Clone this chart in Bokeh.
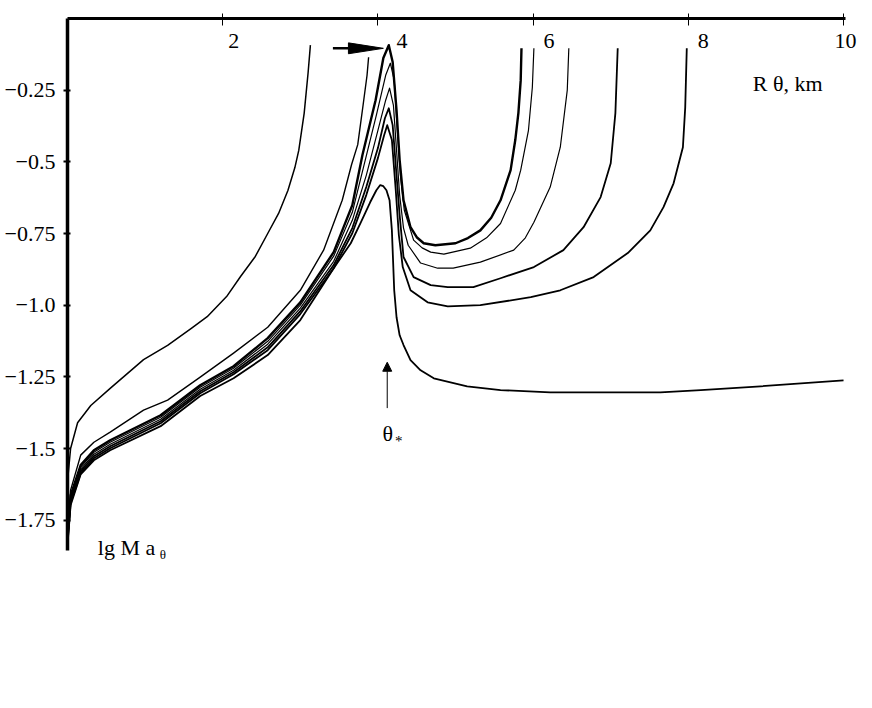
from bokeh.plotting import figure
from bokeh.models import FixedTicker, LabelSet, Label, Arrow, NormalHead, ColumnDataSource
from bokeh.embed import file_html
from bokeh.resources import INLINE

# ---------------- data ----------------
X_TICKS = [2, 4, 6, 8, 10]
X_TICK_LABELS = ["2", "4", "6", "8", "10"]
Y_TICKS = [-0.25, -0.5, -0.75, -1.0, -1.25, -1.5, -1.75]
Y_TICK_LABELS = ["\u22120.25", "\u22120.5", "\u22120.75", "\u22121.0", "\u22121.25", "\u22121.5", "\u22121.75"]

c1_x = [0.005, 0.04, 0.13, 0.30, 0.55, 0.98, 1.29, 1.60, 1.80, 2.05, 2.23, 2.42, 2.58, 2.72, 2.84, 2.93, 2.98, 3.05, 3.10, 3.13]
c1_y = [-1.60, -1.50, -1.41, -1.35, -1.29, -1.19, -1.14, -1.08, -1.04, -0.97, -0.90, -0.83, -0.75, -0.68, -0.60, -0.52, -0.46, -0.33, -0.19, -0.093]

c2_x = [0.005, 0.04, 0.17, 0.34, 0.55, 0.98, 1.29, 1.71, 2.14, 2.58, 3.00, 3.30, 3.54, 3.66, 3.74, 3.81, 3.86, 3.88]
c2_y = [-1.767, -1.645, -1.523, -1.478, -1.443, -1.366, -1.331, -1.251, -1.167, -1.077, -0.948, -0.808, -0.634, -0.51, -0.44, -0.30, -0.198, -0.135]

u1_x = [0.005, 0.04, 0.17, 0.34, 0.55, 1.20, 1.71, 2.14, 2.58, 3.00, 3.43, 3.67, 3.80, 3.97, 4.07, 4.14,
        4.19, 4.24, 4.28, 4.33, 4.42, 4.50, 4.59, 4.74, 5.00, 5.16, 5.32, 5.46, 5.58, 5.71, 5.77, 5.81, 5.84, 5.85]
u1_y = [-1.785, -1.663, -1.558, -1.506, -1.471, -1.384, -1.279, -1.213, -1.115, -0.990, -0.815, -0.651, -0.477, -0.285, -0.138, -0.093,
        -0.152, -0.320, -0.494, -0.634, -0.728, -0.763, -0.784, -0.791, -0.784, -0.766, -0.739, -0.695, -0.634, -0.529, -0.424, -0.330, -0.215, -0.104]

u2_x = [0.005, 0.04, 0.17, 0.34, 0.55, 1.20, 1.71, 2.14, 2.58, 3.00, 3.43, 3.67, 3.82, 3.98, 4.10, 4.16,
        4.21, 4.25, 4.29, 4.34, 4.46, 4.57, 4.68, 4.85, 5.19, 5.40, 5.58, 5.77, 5.84, 5.94, 5.99, 6.01]
u2_y = [-1.792, -1.670, -1.565, -1.513, -1.478, -1.391, -1.286, -1.220, -1.126, -1.000, -0.829, -0.676, -0.512, -0.337, -0.198, -0.156,
        -0.215, -0.390, -0.547, -0.669, -0.773, -0.800, -0.815, -0.822, -0.801, -0.765, -0.715, -0.599, -0.529, -0.390, -0.240, -0.104]

u3_x = [0.005, 0.04, 0.17, 0.34, 0.55, 1.20, 1.71, 2.14, 2.58, 3.00, 3.43, 3.67, 3.85, 4.00, 4.10, 4.15,
        4.20, 4.24, 4.28, 4.33, 4.39, 4.55, 4.77, 4.97, 5.32, 5.75, 5.90, 6.01, 6.22, 6.35, 6.44, 6.46]
u3_y = [-1.799, -1.677, -1.572, -1.520, -1.485, -1.398, -1.293, -1.227, -1.136, -1.010, -0.847, -0.704, -0.547, -0.390, -0.285, -0.243,
        -0.303, -0.459, -0.616, -0.731, -0.791, -0.853, -0.871, -0.871, -0.850, -0.808, -0.765, -0.711, -0.588, -0.449, -0.250, -0.104]

u4_x = [0.005, 0.04, 0.17, 0.34, 0.55, 1.20, 1.71, 2.14, 2.58, 3.00, 3.43, 3.67, 3.85, 4.00, 4.09, 4.14,
        4.19, 4.24, 4.28, 4.33, 4.46, 4.68, 4.90, 5.23, 5.58, 6.01, 6.39, 6.65, 6.87, 7.00, 7.06, 7.09]
u4_y = [-1.806, -1.684, -1.579, -1.527, -1.492, -1.405, -1.300, -1.234, -1.147, -1.021, -0.860, -0.731, -0.588, -0.452, -0.348, -0.313,
        -0.372, -0.547, -0.686, -0.832, -0.902, -0.930, -0.937, -0.937, -0.906, -0.867, -0.808, -0.728, -0.623, -0.505, -0.330, -0.104]

u5_x = [0.005, 0.04, 0.17, 0.34, 0.55, 1.20, 1.71, 2.14, 2.58, 3.00, 3.43, 3.67, 3.85, 4.00, 4.08, 4.12,
        4.18, 4.23, 4.27, 4.32, 4.42, 4.64, 4.90, 5.32, 5.97, 6.35, 6.78, 7.22, 7.51, 7.68, 7.81, 7.93, 7.96, 7.98]
u5_y = [-1.813, -1.691, -1.586, -1.534, -1.499, -1.412, -1.307, -1.241, -1.157, -1.031, -0.871, -0.749, -0.616, -0.487, -0.407, -0.372,
        -0.424, -0.599, -0.756, -0.867, -0.948, -0.990, -1.004, -1.000, -0.972, -0.948, -0.902, -0.818, -0.739, -0.658, -0.575, -0.449, -0.310, -0.104]

b6_x = [0.005, 0.04, 0.17, 0.34, 0.55, 1.20, 1.71, 2.14, 2.58, 3.00, 3.43, 3.65, 3.78, 3.90, 3.98, 4.03,
        4.07, 4.11, 4.15, 4.18, 4.19, 4.21, 4.24, 4.28, 4.33, 4.42, 4.55, 4.72, 5.15, 5.58, 6.22, 7.64, 8.16, 8.93, 10.0]
b6_y = [-1.820, -1.698, -1.590, -1.541, -1.506, -1.422, -1.317, -1.255, -1.174, -1.052, -0.871, -0.784, -0.711, -0.641, -0.599, -0.581,
        -0.585, -0.599, -0.634, -0.739, -0.808, -0.948, -1.042, -1.105, -1.139, -1.192, -1.227, -1.255, -1.283, -1.296, -1.304, -1.304, -1.296, -1.283, -1.262]

CURVES = [
    (c1_x, c1_y, 1.5),
    (c2_x, c2_y, 1.4),
    (u1_x, u1_y, 2.4),
    (u2_x, u2_y, 1.2),
    (u3_x, u3_y, 1.2),
    (u4_x, u4_y, 1.8),
    (u5_x, u5_y, 1.8),
    (b6_x, b6_y, 1.8),
]

# axis extents and annotation anchors (data units)
X_AXIS_END = 10.03
Y_AXIS_END = -1.855
TOP_ARROW_Y = -0.104
TOP_ARROW_X0 = 3.42
TOP_ARROW_TIP = 4.07
TOP_HEAD_BASE = 3.62
TOP_HEAD_HALF = 0.019
THETA_ARROW_X = 4.12
THETA_ARROW_Y0 = -1.359
THETA_ARROW_Y1 = -1.199

FONT = "Liberation Serif"

p = figure(frame_width=798, frame_height=547, x_range=(0, 10.283), y_range=(-1.908, 0.0),
           x_axis_location="above", toolbar_location=None, output_backend="svg",
           min_border_left=67, min_border_top=18, min_border_right=3, min_border_bottom=20)
p.xgrid.visible = False
p.ygrid.visible = False
p.outline_line_color = None
p.background_fill_color = "white"
p.border_fill_color = "white"

xa = p.xaxis[0]
xa.ticker = FixedTicker(ticks=[], minor_ticks=X_TICKS)
xa.bounds = (0, X_AXIS_END)
xa.axis_line_width = 3
xa.axis_line_color = "black"
xa.major_tick_line_color = None
xa.minor_tick_in = 7
xa.minor_tick_out = 5
xa.minor_tick_line_width = 1
xa.minor_tick_line_color = "black"
xa.major_label_standoff = 0

ya = p.yaxis[0]
ya.ticker = FixedTicker(ticks=Y_TICKS)
ya.bounds = (Y_AXIS_END, 0)
ya.major_label_overrides = {t: s for t, s in zip(Y_TICKS, Y_TICK_LABELS)}
ya.major_label_text_font = FONT
ya.major_label_text_font_size = "22px"
ya.major_label_text_color = "black"
ya.major_label_standoff = 8
ya.axis_line_width = 3.5
ya.axis_line_color = "black"
ya.major_tick_in = 3
ya.major_tick_out = 4
ya.major_tick_line_width = 2
ya.minor_tick_line_color = None

for xs, ys, w in CURVES:
    p.line(xs, ys, line_color="black", line_width=w, line_join="round")

# top arrow pointing at the peak
p.line([TOP_ARROW_X0, TOP_HEAD_BASE], [TOP_ARROW_Y, TOP_ARROW_Y], line_color="black", line_width=2.5)
p.patch([TOP_HEAD_BASE, TOP_ARROW_TIP, TOP_HEAD_BASE],
        [TOP_ARROW_Y + TOP_HEAD_HALF, TOP_ARROW_Y, TOP_ARROW_Y - TOP_HEAD_HALF],
        fill_color="black", line_color="black", line_width=1)

# theta* arrow
p.add_layout(Arrow(x_start=THETA_ARROW_X, y_start=THETA_ARROW_Y0, x_end=THETA_ARROW_X, y_end=THETA_ARROW_Y1,
                   line_width=1, line_color="black",
                   end=NormalHead(size=9, fill_color="black", line_color="black", line_width=1)))

# top tick labels (drawn inside, below the axis line)
src = ColumnDataSource(dict(x=X_TICKS, text=X_TICK_LABELS, xo=[11, 24, 16, 15, 2]))
p.add_layout(LabelSet(x="x", y=0.0, text="text", source=src, x_offset="xo", y_offset=-22,
                      text_font=FONT, text_font_size="22px", text_align="center",
                      text_baseline="middle", text_color="black"))

def lab(x, y, t, size="22px", yo=0):
    p.add_layout(Label(x=x, y=y, text=t, text_font=FONT, text_font_size=size,
                       text_color="black", text_baseline="alphabetic", text_align="left", y_offset=yo))

lab(8.83, -0.226, "R \u03b8, km")
lab(0.39, -1.844, "lg M a")
lab(1.19, -1.844, "\u03b8", size="13px", yo=-7)
lab(4.06, -1.446, "\u03b8", size="22px")
lab(4.22, -1.446, "*", size="15px", yo=-8)

open("out.html", "w").write(file_html(p, INLINE))
